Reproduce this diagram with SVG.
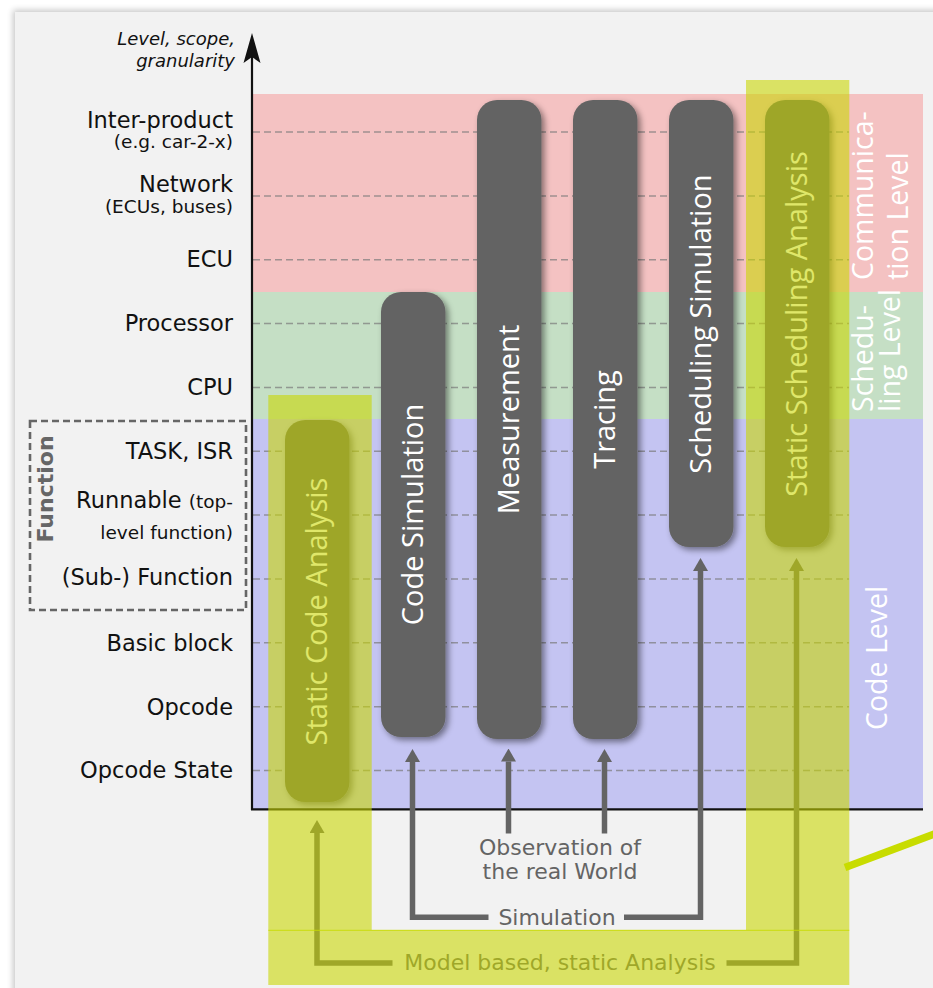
<svg xmlns="http://www.w3.org/2000/svg" width="933" height="988" viewBox="0 0 933 988">
<defs>
<style>
.lbl{font-family:"DejaVu Sans","Liberation Sans",sans-serif;font-size:22.5px;fill:#111;text-anchor:end}
.sm{font-size:18.5px}
.ax{font-family:"DejaVu Sans","Liberation Sans",sans-serif;font-size:18px;font-style:italic;fill:#111;text-anchor:end}
.grid{stroke:#7a7a7a;stroke-opacity:.7;stroke-width:1.5;stroke-dasharray:7 4}
.bar{fill:#646464;filter:url(#sh)}
.bt{font-family:"Open Sans","Noto Sans",sans-serif;font-size:29px;fill:#fff;text-anchor:middle}
.side{font-family:"Open Sans","Noto Sans",sans-serif;font-size:28.5px;fill:#fff}
.con{fill:none;stroke:#646464;stroke-width:5.5;marker-end:url(#ah)}
.ct{font-family:"DejaVu Sans","Liberation Sans",sans-serif;font-size:22px;fill:#646464;text-anchor:middle}
</style>
<filter id="sh" x="-30%" y="-10%" width="160%" height="120%">
<feDropShadow dx="3" dy="3" stdDeviation="3" flood-color="#000" flood-opacity="0.45"/>
</filter>
<filter id="psh" x="-5%" y="-5%" width="110%" height="110%">
<feGaussianBlur stdDeviation="3"/>
</filter>
<marker id="ah" viewBox="0 0 13 15" markerWidth="13" markerHeight="15" markerUnits="userSpaceOnUse" refX="0" refY="7.5" orient="auto">
<path d="M0,0 L13,7.5 L0,15 z" fill="#646464"/>
</marker>
</defs>
<rect width="933" height="988" fill="#fff"/>
<rect x="13" y="10" width="960" height="1010" fill="#000" opacity="0.22" filter="url(#psh)"/>
<rect x="15" y="12" width="940" height="1000" fill="#f2f2f2"/>

<g id="bands">
<rect x="252" y="94" width="671" height="198" fill="#f4c2c2"/>
<rect x="252" y="292" width="671" height="127" fill="#c5dfc5"/>
<rect x="252" y="419" width="671" height="390" fill="#c4c4f2"/>
</g>

<g id="grid">
<line class="grid" x1="253" y1="132" x2="849" y2="132"/>
<line class="grid" x1="253" y1="195.9" x2="849" y2="195.9"/>
<line class="grid" x1="253" y1="259.7" x2="849" y2="259.7"/>
<line class="grid" x1="253" y1="323.6" x2="849" y2="323.6"/>
<line class="grid" x1="253" y1="387.4" x2="849" y2="387.4"/>
<line class="grid" x1="253" y1="451.3" x2="849" y2="451.3"/>
<line class="grid" x1="253" y1="515.1" x2="849" y2="515.1"/>
<line class="grid" x1="253" y1="579" x2="849" y2="579"/>
<line class="grid" x1="253" y1="642.8" x2="849" y2="642.8"/>
<line class="grid" x1="253" y1="706.7" x2="849" y2="706.7"/>
<line class="grid" x1="253" y1="770.5" x2="849" y2="770.5"/>
</g>

<g id="axis">
<line x1="252" y1="810" x2="252" y2="50" stroke="#111" stroke-width="2.2"/>
<line x1="251" y1="809.3" x2="923" y2="809.3" stroke="#111" stroke-width="2.2"/>
<path d="M252,33 L260.5,63 L252,57 L243.5,63 z" fill="#111"/>
<text class="ax" x="235" y="45">Level, scope,</text>
<text class="ax" x="235" y="66.5">granularity</text>
</g>

<g id="level-labels">
<text class="lbl" x="233" y="127.5">Inter-product</text>
<text class="lbl sm" x="233" y="148">(e.g. car-2-x)</text>
<text class="lbl" x="233" y="191.5">Network</text>
<text class="lbl sm" x="233" y="213">(ECUs, buses)</text>
<text class="lbl" x="233" y="266.5">ECU</text>
<text class="lbl" x="233" y="330.5">Processor</text>
<text class="lbl" x="233" y="394.5">CPU</text>
<text class="lbl" x="233" y="459">TASK, ISR</text>
<text class="lbl" x="233" y="508">Runnable <tspan class="sm">(top-</tspan></text>
<text class="lbl sm" x="233" y="539">level function)</text>
<text class="lbl" x="233" y="585">(Sub-) Function</text>
<text class="lbl" x="233" y="650.5">Basic block</text>
<text class="lbl" x="233" y="714.5">Opcode</text>
<text class="lbl" x="233" y="777.5">Opcode State</text>
</g>

<g id="function-group">
<rect x="30" y="421" width="216" height="189" fill="none" stroke="#666" stroke-width="2.6" stroke-dasharray="7 4"/>
<text transform="translate(53,489) rotate(-90)" text-anchor="middle" font-family="DejaVu Sans, Liberation Sans, sans-serif" font-size="22" font-weight="bold" fill="#666">Function</text>
</g>

<g id="level-names">
<text class="side" transform="translate(873,280) rotate(-90)">Communica-</text>
<text class="side" transform="translate(908,280) rotate(-90)">tion Level</text>
<text class="side" transform="translate(873,412) rotate(-90)" font-size="22.5">Schedu-</text>
<text class="side" transform="translate(900,412) rotate(-90)" font-size="22.5">ling Level</text>
<text class="side" transform="translate(887,730) rotate(-90)">Code Level</text>
</g>

<g id="static-code-analysis">
<rect class="bar" x="285" y="420" width="64.5" height="382" rx="20"/>
<text class="bt" transform="translate(327,611.5) rotate(-90)">Static Code Analysis</text>
</g>
<g id="code-simulation">
<rect class="bar" x="381" y="292" width="64.5" height="445" rx="20"/>
<text class="bt" transform="translate(423,514.5) rotate(-90)">Code Simulation</text>
</g>
<g id="measurement">
<rect class="bar" x="477" y="100" width="64.5" height="639" rx="20"/>
<text class="bt" transform="translate(519,419.5) rotate(-90)">Measurement</text>
</g>
<g id="tracing">
<rect class="bar" x="573" y="100" width="64.5" height="639" rx="20"/>
<text class="bt" transform="translate(614.5,419.5) rotate(-90)">Tracing</text>
</g>
<g id="scheduling-simulation">
<rect class="bar" x="669" y="100" width="64.5" height="447" rx="20"/>
<text class="bt" transform="translate(710.5,324) rotate(-90)">Scheduling Simulation</text>
</g>
<g id="static-scheduling-analysis">
<rect class="bar" x="765" y="100" width="64.5" height="447" rx="20"/>
<text class="bt" transform="translate(806.5,324) rotate(-90)">Static Scheduling Analysis</text>
</g>

<g id="connectors">
<path class="con" d="M488.5,917.3 H412.5 V762"/>
<path class="con" d="M624,917.3 H700.5 V571"/>
<path class="con" d="M508.5,833.5 V761.5"/>
<path class="con" d="M604.5,833.5 V762"/>
<path class="con" d="M392.5,963 H317 V833"/>
<path class="con" d="M726.5,963 H796.5 V571"/>
<text class="ct" x="560" y="855">Observation of</text>
<text class="ct" x="560" y="879">the real World</text>
<text class="ct" x="557" y="924.5">Simulation</text>
<text class="ct" x="560" y="969.5">Model based, static Analysis</text>
</g>

<g id="highlight">
<path d="M268.3,395 H371.7 V930 H746 V80 H849.3 V985 H268.3 Z" fill="#c9d700" fill-opacity="0.59"/>
<line x1="268.3" y1="930.3" x2="849.3" y2="930.3" stroke="#c8dc00" stroke-width="1.2" stroke-opacity="0.7"/>
<line x1="845" y1="867.5" x2="940" y2="832" stroke="#c8dc00" stroke-width="7.5"/>
</g>
</svg>
